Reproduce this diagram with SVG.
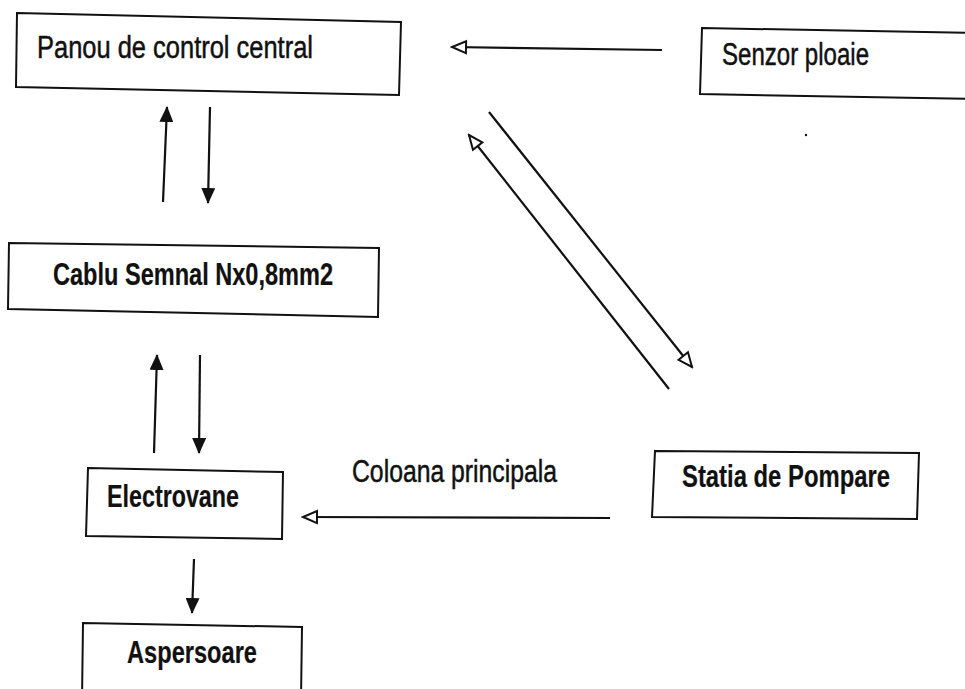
<svg xmlns="http://www.w3.org/2000/svg" width="965" height="689" viewBox="0 0 965 689">
<style>
.box{fill:#fff;stroke:#111;stroke-width:2}
.t{font-family:"Liberation Sans",Arial,sans-serif;font-size:31px;fill:#111;stroke:#111;stroke-width:0.5}
.b{font-weight:bold;stroke-width:0.2}
.c{stroke:#111;stroke-width:2.2;fill:none}
.f{marker-end:url(#af)}
.o{marker-end:url(#ao)}
</style>
<defs>
<marker id="af" markerUnits="userSpaceOnUse" markerWidth="16" markerHeight="14" viewBox="0 0 16 14" refX="15" refY="7" orient="auto">
<path d="M0,0 L16,7 L0,14 z" fill="#111"/>
</marker>
<marker id="ao" markerUnits="userSpaceOnUse" markerWidth="18" markerHeight="16" viewBox="0 0 18 16" refX="16" refY="8" orient="auto">
<path d="M2,2 L16,8 L2,14 z" fill="#fff" stroke="#111" stroke-width="2"/>
</marker>
</defs>
<rect width="965" height="689" fill="#fff"/>
<g id="connectors">
<line class="c o" x1="662" y1="50" x2="452" y2="47"/>
<line class="c o" x1="489" y1="112" x2="692" y2="367"/>
<line class="c o" x1="669" y1="389" x2="469" y2="135"/>
<line class="c f" x1="163" y1="202" x2="167" y2="107"/>
<line class="c f" x1="210" y1="107" x2="208" y2="203"/>
<line class="c f" x1="154" y1="453" x2="157" y2="355"/>
<line class="c f" x1="200" y1="355" x2="199" y2="453"/>
<line class="c f" x1="194" y1="559" x2="192" y2="613"/>
<line class="c o" x1="610" y1="518" x2="303" y2="517"/>
</g>
<g id="panou">
<polygon class="box" points="17,13 401,22 399,95 16,87"/>
<text class="t" x="37" y="58" textLength="276" lengthAdjust="spacingAndGlyphs">Panou de control central</text>
</g>
<g id="senzor">
<polygon class="box" points="702,28 975,33 975,99 700,94"/>
<text class="t" x="722" y="65" textLength="147" lengthAdjust="spacingAndGlyphs">Senzor ploaie</text>
</g>
<g id="cablu">
<polygon class="box" points="9,243 379,248 378,317 8,309"/>
<text class="t b" x="53" y="285" textLength="280" lengthAdjust="spacingAndGlyphs">Cablu Semnal Nx0,8mm2</text>
</g>
<g id="electrovane">
<polygon class="box" points="88,468 283,472 282,539 86,536"/>
<text class="t b" x="107" y="507" textLength="132" lengthAdjust="spacingAndGlyphs">Electrovane</text>
</g>
<g id="aspersoare">
<polygon class="box" points="83,623 302,627 301,700 82,700"/>
<text class="t b" x="127" y="663" textLength="130" lengthAdjust="spacingAndGlyphs">Aspersoare</text>
</g>
<g id="statia">
<polygon class="box" points="655,451 919,453 917,519 652,517"/>
<text class="t b" x="682" y="487" textLength="208" lengthAdjust="spacingAndGlyphs">Statia de Pompare</text>
</g>
<g id="label-coloana">
<text class="t" x="352" y="482" textLength="205" lengthAdjust="spacingAndGlyphs">Coloana principala</text>
</g>
<circle cx="806" cy="135" r="1.2" fill="#111"/>
</svg>
